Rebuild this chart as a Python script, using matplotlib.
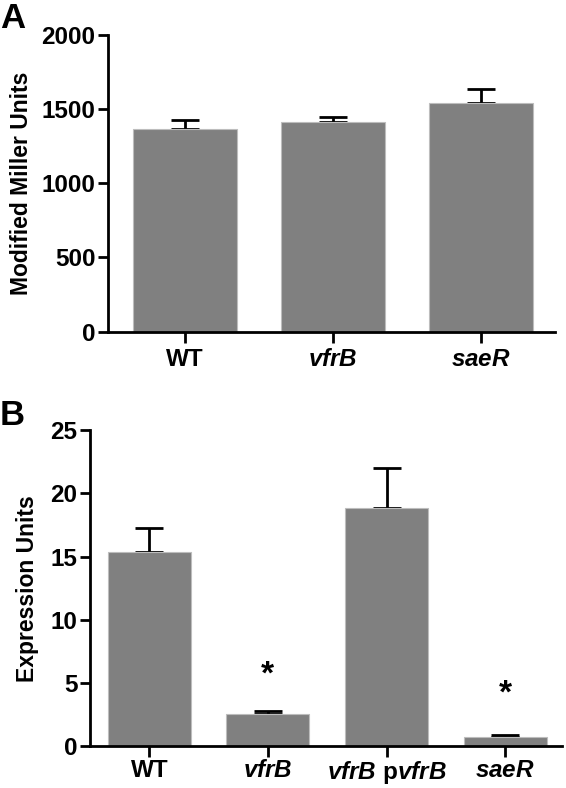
import matplotlib
matplotlib.use("Agg")
import matplotlib.pyplot as plt

plt.rcParams["font.family"] = ["Liberation Sans", "DejaVu Sans"]
plt.rcParams["font.weight"] = "bold"
plt.rcParams["mathtext.fontset"] = "custom"
plt.rcParams["mathtext.rm"] = "Liberation Sans:bold"
plt.rcParams["mathtext.it"] = "Liberation Sans:italic:bold"
plt.rcParams["mathtext.bf"] = "Liberation Sans:bold"

# panel A: beta-galactosidase activity
a_labels = ["WT", r"$\it{vfrB}$", r"$\it{saeR}$"]
a_means = [1368, 1410, 1538]
a_err = [56, 36, 99]

# panel B: expression
b_labels = ["WT", r"$\it{vfrB}$", r"$\it{vfrB}$ p$\it{vfrB}$", r"$\it{saeR}$"]
b_means = [15.35, 2.53, 18.85, 0.77]
b_err = [1.9, 0.22, 3.17, 0.08]
b_stars = ["", "*", "", "*"]
b_star_y = [None, 4.4, None, 2.9]

BAR = "#808080"
EDGE = "#bdbdbd"
TICK_FS = 17.5
LAB_FS = 16.5

fig = plt.figure(figsize=(5.66, 7.88), dpi=100)


def style(ax, xpad=4):
    for s in ("top", "right"):
        ax.spines[s].set_visible(False)
    for s in ("left", "bottom"):
        ax.spines[s].set_linewidth(2)
    ax.tick_params(axis="y", length=7, width=2, labelsize=TICK_FS, pad=2)
    ax.tick_params(axis="x", length=8, width=2, labelsize=TICK_FS, pad=xpad)
    for t in ax.get_yticklabels():
        t.set_fontweight("bold")


def draw(ax, labels, means, err):
    x = range(len(means))
    ax.errorbar(x, means, yerr=[[0] * len(err), err], fmt="none",
                ecolor="black", elinewidth=2, capsize=10, capthick=2, zorder=1)
    ax.bar(x, means, width=0.7, color=BAR, edgecolor=EDGE, linewidth=0.8, zorder=2)
    ax.set_xticks(list(x))
    ax.set_xticklabels(labels)


axA = fig.add_axes([0.191, 0.579, 0.79, 0.377])
draw(axA, a_labels, a_means, a_err)
axA.set_ylim(0, 2000)
axA.set_xlim(-0.52, 2.5)
axA.set_yticks([0, 500, 1000, 1500, 2000])
axA.set_ylabel("Modified Miller Units", fontsize=LAB_FS, fontweight="bold", labelpad=6)
style(axA)

axB = fig.add_axes([0.159, 0.053, 0.834, 0.401])
draw(axB, b_labels, b_means, b_err)
axB.set_ylim(0, 25)
axB.set_xlim(-0.5, 3.48)
axB.set_yticks([0, 5, 10, 15, 20, 25])
axB.set_ylabel("Expression Units", fontsize=LAB_FS, fontweight="bold", labelpad=8)
for i, (s, y) in enumerate(zip(b_stars, b_star_y)):
    if s:
        axB.text(i, y, s, ha="center", va="bottom", fontsize=24, fontweight="bold")
style(axB, xpad=1.5)

fig.text(0.0, 0.998, "A", fontsize=25, fontweight="bold", va="top", ha="left")
fig.text(0.0, 0.494, "B", fontsize=25, fontweight="bold", va="top", ha="left")

fig.savefig("out.png", dpi=100)
